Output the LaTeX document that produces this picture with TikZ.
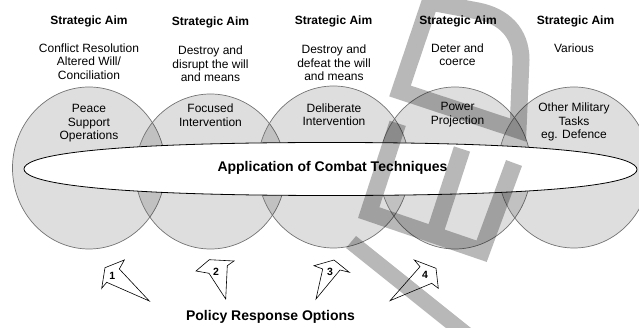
\documentclass[tikz,border=0pt]{standalone}
\usepackage{fontspec}
\setmainfont{Liberation Sans}
\begin{document}
\begin{tikzpicture}[x=1pt,y=-1pt,
  ln/.style={anchor=base, inner sep=0pt, font=\fontsize{12}{14}\selectfont},
  aim/.style={anchor=base, inner sep=0pt, font=\fontsize{12}{14}\selectfont\bfseries},
  big/.style={anchor=base, inner sep=0pt, font=\fontsize{14}{16}\selectfont\bfseries},
  num/.style={anchor=center, inner sep=0pt, font=\fontsize{10.5}{12}\selectfont\bfseries},
  ring/.style={fill=black, fill opacity=0.13, draw={rgb,255:red,115;green,115;blue,115}, draw opacity=1, line width=0.7pt},
  arr/.style={draw=black, fill=white, line width=0.6pt, line join=miter},
  wm/.style={draw=black, draw opacity=0.28, line width=17pt, line join=miter},
  wmf/.style={fill=black, fill opacity=0.28},
]
\useasboundingbox (0,0) rectangle (639,328);
\clip (0,0) rectangle (639,328);

% circles
\draw[ring] (89,168) ellipse [x radius=76.5, y radius=81];
\draw[ring] (210.5,171.5) ellipse [x radius=75, y radius=77.5];
\draw[ring] (333.5,167) ellipse [x radius=76, y radius=81];
\draw[ring] (455,168) ellipse [x radius=76, y radius=81];
\draw[ring] (574,167.5) ellipse [x radius=76, y radius=80.5];

% central ellipse
\draw[black, line width=0.8pt, fill=white]
  (24,169) .. controls (24,158.4) and (70,142.5) .. (330.5,142.5)
  .. controls (591,142.5) and (637,158.9) .. (637,169.5)
  .. controls (637,180.1) and (591,195.5) .. (330.5,195.5)
  .. controls (70,195.5) and (24,179.6) .. cycle;
\node[big] (app) at (332.5,172) {Application of Combat Techniques};

% column 1
\node[aim] (sa1) at (89,25) {Strategic Aim};
\node[ln] (a1l1) at (89,52.3) {Conflict Resolution};
\node[ln] (a1l2) at (89,66) {Altered Will/};
\node[ln] (a1l3) at (89,79.7) {Conciliation};
\node[ln] (c1l1) at (89,112.7) {Peace};
\node[ln] (c1l2) at (89,126.3) {Support};
\node[ln] (c1l3) at (89,140) {Operations};

% column 2
\node[aim] (sa2) at (210.5,25.3) {Strategic Aim};
\node[ln] (a2l1) at (210.5,54.5) {Destroy and};
\node[ln] (a2l2) at (210.5,68.2) {disrupt the will};
\node[ln] (a2l3) at (210.5,81.9) {and means};
\node[ln] (c2l1) at (210.5,113) {Focused};
\node[ln] (c2l2) at (210.5,127) {Intervention};

% column 3
\node[aim] (sa3) at (333.5,25) {Strategic Aim};
\node[ln] (a3l1) at (334,53.5) {Destroy and};
\node[ln] (a3l2) at (334,67.2) {defeat the will};
\node[ln] (a3l3) at (334,80.9) {and means};
\node[ln] (c3l1) at (334,112.3) {Deliberate};
\node[ln] (c3l2) at (334,125.9) {Intervention};

% column 4
\node[aim] (sa4) at (458,25) {Strategic Aim};
\node[ln] (a4l1) at (457.5,52.3) {Deter and};
\node[ln] (a4l2) at (457.5,66) {coerce};
\node[ln] (c4l1) at (457.5,111) {Power};
\node[ln] (c4l2) at (457.5,124.7) {Projection};

% column 5
\node[aim] (sa5) at (575.5,25) {Strategic Aim};
\node[ln] (a5l1) at (574,52.3) {Various};
\node[ln] (c5l1) at (574,111.5) {Other Military};
\node[ln] (c5l2) at (574,125.1) {Tasks};
\node[ln] (c5l3) at (574,138.7) {eg. Defence};

% policy arrows
\draw[arr] (105,267.7) -- (124.3,260) -- (119.3,269) -- (149.3,301) -- (106.7,282.3) -- (101.7,288.3) -- cycle;
\node[num] (n1) at (112.3,275.7) {1};
\draw[arr] (196,271) -- (209.3,259.7) -- (234,261) -- (227.3,265.7) -- (225.7,299) -- (209,273.3) -- cycle;
\node[num] (n2) at (216,272.3) {2};
\draw[arr] (314,265.7) -- (334,260) -- (349.3,272.3) -- (340,270) -- (316,299) -- (322.7,269) -- cycle;
\node[num] (n3) at (330,271.7) {3};
\draw[arr] (414.3,260) -- (436,268.3) -- (438.3,288.3) -- (431.7,283.3) -- (390,300.7) -- (420,266.7) -- cycle;
\node[num] (n4) at (425,275) {4};

\node[big] (pro) at (270.5,320) {Policy Response Options};

% watermark
\draw[wm] (518,130) -- (400,91) -- (430,2) -- (478,11) .. controls (503,16) and (521,32) .. (521,60) -- (518,130) -- cycle;
\draw[wm] (397.7,123.3) -- (368.7,212.6) -- (481.6,251.2) -- (514,163)
          (434.1,234.7) -- (462,149);
\fill[wmf] (346,248) -- (356,236) -- (488.8,342.3) -- (463,341.7) -- cycle;
\end{tikzpicture}
\end{document}
